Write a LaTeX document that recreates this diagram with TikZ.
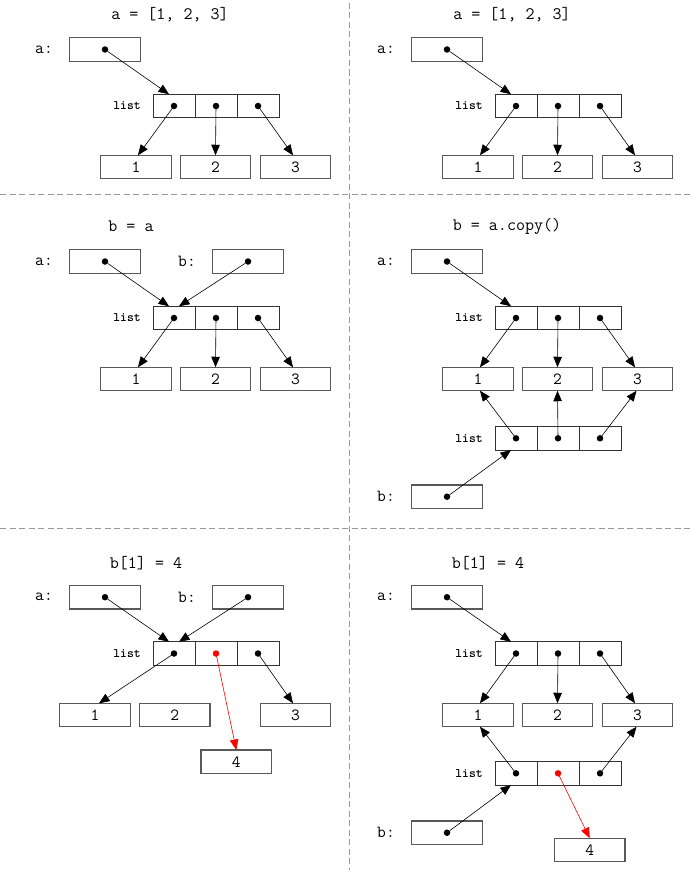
\documentclass[tikz,border=0pt]{standalone}
\usepackage{fontspec}
\newcommand\cour{\ttfamily}
\usetikzlibrary{arrows.meta,calc}
\tikzset{
  cell/.style={draw=black!80,line width=0.9pt,minimum width=42pt,minimum height=23.5pt,inner sep=0pt,outer sep=0pt},
  valbox/.style={draw=black!65,line width=1.2pt,minimum width=70.5pt,minimum height=23.5pt,inner sep=0pt,outer sep=0pt,font=\cour\fontsize{17}{18}\selectfont,text=black},
  varbox/.style={valbox},
  ttl/.style={font=\cour\fontsize{17.5}{18}\selectfont},
  lab/.style={font=\cour\fontsize{17}{18}\selectfont},
  listlab/.style={font=\cour\bfseries\fontsize{13}{14}\selectfont},
  ptr/.style={line width=0.6pt,-{Triangle[length=10.5pt,width=8.5pt]}},
  redptr/.style={ptr,draw=red},
  dotn/.style={circle,fill=black,inner sep=0pt,minimum size=6.5pt},
  reddot/.style={dotn,fill=red},
  sepline/.style={draw=black!40,line width=1pt,dash pattern=on 6pt off 3.5pt},
}
% list of three cells: name, x of first cell, y
\newcommand\mylist[3]{%
  \node[listlab] (#1l) at (#2-47,#3) {list};
  \node[cell] (#11) at (#2,#3) {};
  \node[cell] (#12) at (#2+42,#3) {};
  \node[cell] (#13) at (#2+84,#3) {};
}
% variable box: name, label, x, y
\newcommand\myvar[4]{%
  \node[lab] (#1l) at (#3-61,#4) {#2:};
  \node[varbox] (#1) at (#3,#4) {};
  \node[dotn] (#1d) at (#1.center) {};
}
\begin{document}
\begin{tikzpicture}[x=1pt,y=-1pt]
\useasboundingbox (0,0) rectangle (690,875);
\fill[white] (0,0) rectangle (690,875);

% separators
\coordinate (h1a) at (0,194.3); \coordinate (h1b) at (690,194.3);
\coordinate (h2a) at (0,528.3); \coordinate (h2b) at (690,528.3);
\coordinate (vta) at (349.3,3); \coordinate (vtb) at (349.3,870);
\draw[sepline] (h1a) -- (h1b);
\draw[sepline] (h2a) -- (h2b);
\draw[sepline] (vta) -- (vtb);

% ---------- panel 1 ----------
\node[ttl] (t1) at (170,15) {a = [1, 2, 3]};
\myvar{p1a}{a}{105}{49.5}
\mylist{p1L}{174}{106}
\node[valbox] (p1v1) at (136,167) {1};
\node[valbox] (p1v2) at (215.5,167) {2};
\node[valbox] (p1v3) at (295.5,167) {3};
\node[dotn] (p1d1) at (p1L1.center) {};
\node[dotn] (p1d2) at (p1L2.center) {};
\node[dotn] (p1d3) at (p1L3.center) {};
\draw[ptr] (p1ad) -- ($(p1L1.north)+(-5,0)$);
\draw[ptr] (p1d1.center) -- ($(p1v1.north)+(2,0)$);
\draw[ptr] (p1d2.center) -- (p1v2.north);
\draw[ptr] (p1d3.center) -- ($(p1v3.north)+(-2.5,0)$);

% ---------- panel 2 ----------
\node[ttl] (t2) at (512,15) {a = [1, 2, 3]};
\myvar{p2a}{a}{447}{49.5}
\mylist{p2L}{516}{106}
\node[valbox] (p2v1) at (478,167) {1};
\node[valbox] (p2v2) at (557.5,167) {2};
\node[valbox] (p2v3) at (637.5,167) {3};
\node[dotn] (p2d1) at (p2L1.center) {};
\node[dotn] (p2d2) at (p2L2.center) {};
\node[dotn] (p2d3) at (p2L3.center) {};
\draw[ptr] (p2ad) -- ($(p2L1.north)+(-5,0)$);
\draw[ptr] (p2d1.center) -- ($(p2v1.north)+(2,0)$);
\draw[ptr] (p2d2.center) -- (p2v2.north);
\draw[ptr] (p2d3.center) -- ($(p2v3.north)+(-2.5,0)$);

% ---------- panel 3 ----------
\node[ttl] (t3) at (131,226.5) {b = a};
\myvar{p3a}{a}{105}{261.5}
\myvar{p3b}{b}{248}{261.5}
\mylist{p3L}{174}{318}
\node[valbox] (p3v1) at (136,379) {1};
\node[valbox] (p3v2) at (215.5,379) {2};
\node[valbox] (p3v3) at (295.5,379) {3};
\node[dotn] (p3d1) at (p3L1.center) {};
\node[dotn] (p3d2) at (p3L2.center) {};
\node[dotn] (p3d3) at (p3L3.center) {};
\draw[ptr] (p3ad) -- ($(p3L1.north)+(-5,0)$);
\draw[ptr] (p3bd) -- ($(p3L1.north)+(5,0)$);
\draw[ptr] (p3d1.center) -- ($(p3v1.north)+(2,0)$);
\draw[ptr] (p3d2.center) -- (p3v2.north);
\draw[ptr] (p3d3.center) -- ($(p3v3.north)+(-2.5,0)$);

% ---------- panel 4 ----------
\node[ttl] (t4) at (507,226.5) {b = a.copy()};
\myvar{p4a}{a}{447}{261.5}
\mylist{p4L}{516}{318}
\node[valbox] (p4v1) at (478,379) {1};
\node[valbox] (p4v2) at (557.5,379) {2};
\node[valbox] (p4v3) at (637.5,379) {3};
\mylist{p4M}{516}{438.3}
\myvar{p4b}{b}{447}{496.7}
\node[dotn] (p4d1) at (p4L1.center) {};
\node[dotn] (p4d2) at (p4L2.center) {};
\node[dotn] (p4d3) at (p4L3.center) {};
\node[dotn] (p4e1) at (p4M1.center) {};
\node[dotn] (p4e2) at (p4M2.center) {};
\node[dotn] (p4e3) at (p4M3.center) {};
\draw[ptr] (p4ad) -- ($(p4L1.north)+(-5,0)$);
\draw[ptr] (p4d1.center) -- ($(p4v1.north)+(2,0)$);
\draw[ptr] (p4d2.center) -- (p4v2.north);
\draw[ptr] (p4d3.center) -- ($(p4v3.north)+(-2.5,0)$);
\draw[ptr] (p4e1.center) -- ($(p4v1.south)+(2,0)$);
\draw[ptr] (p4e2.center) -- (p4v2.south);
\draw[ptr] (p4e3.center) -- ($(p4v3.south)+(-1,0)$);
\draw[ptr] (p4bd) -- ($(p4M1.south)+(-5,0)$);

% ---------- panel 5 ----------
\node[ttl] (t5) at (146,562.7) {b[1] = 4};
\myvar{p5a}{a}{105}{597.2}
\myvar{p5b}{b}{248}{597.2}
\mylist{p5L}{174}{653.5}
\node[valbox] (p5v1) at (95,715) {1};
\node[valbox] (p5v2) at (174.7,715) {2};
\node[valbox] (p5v3) at (295.5,715) {3};
\node[valbox] (p5v4) at (236.3,761.7) {4};
\node[dotn] (p5d1) at (p5L1.center) {};
\node[reddot] (p5d2) at (p5L2.center) {};
\node[dotn] (p5d3) at (p5L3.center) {};
\draw[ptr] (p5ad) -- ($(p5L1.north)+(-5,0)$);
\draw[ptr] (p5bd) -- ($(p5L1.north)+(5,0)$);
\draw[ptr] (p5d1.center) -- ($(p5v1.north)+(4,0)$);
\draw[redptr] (p5d2.center) -- (p5v4.north);
\draw[ptr] (p5d3.center) -- ($(p5v3.north)+(-2.5,0)$);

% ---------- panel 6 ----------
\node[ttl] (t6) at (488,562.7) {b[1] = 4};
\myvar{p6a}{a}{447}{597.2}
\mylist{p6L}{516}{653.5}
\node[valbox] (p6v1) at (478,715) {1};
\node[valbox] (p6v2) at (557.5,715) {2};
\node[valbox] (p6v3) at (637.5,715) {3};
\mylist{p6M}{516}{773.3}
\myvar{p6b}{b}{447}{832.7}
\node[valbox] (p6v4) at (589.7,850) {4};
\node[dotn] (p6d1) at (p6L1.center) {};
\node[dotn] (p6d2) at (p6L2.center) {};
\node[dotn] (p6d3) at (p6L3.center) {};
\node[dotn] (p6e1) at (p6M1.center) {};
\node[reddot] (p6e2) at (p6M2.center) {};
\node[dotn] (p6e3) at (p6M3.center) {};
\draw[ptr] (p6ad) -- ($(p6L1.north)+(-5,0)$);
\draw[ptr] (p6d1.center) -- ($(p6v1.north)+(2,0)$);
\draw[ptr] (p6d2.center) -- (p6v2.north);
\draw[ptr] (p6d3.center) -- ($(p6v3.north)+(-2.5,0)$);
\draw[ptr] (p6e1.center) -- ($(p6v1.south)+(2,0)$);
\draw[ptr] (p6e3.center) -- ($(p6v3.south)+(-1,0)$);
\draw[redptr] (p6e2.center) -- (p6v4.north);
\draw[ptr] (p6bd) -- ($(p6M1.south)+(-5,0)$);
\end{tikzpicture}
\end{document}
